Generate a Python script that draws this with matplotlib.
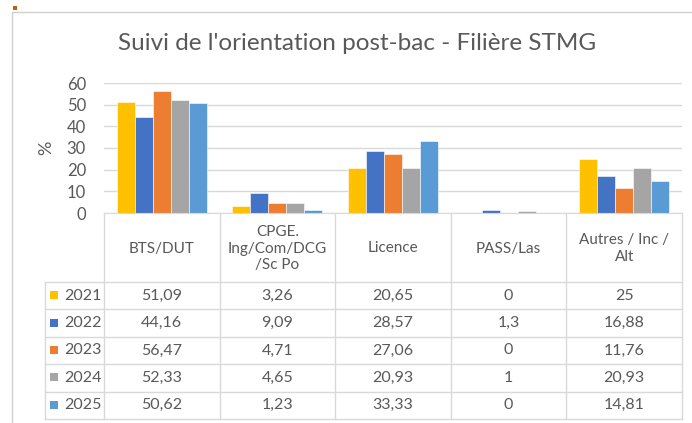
import matplotlib
matplotlib.use("Agg")
import matplotlib.pyplot as plt
from matplotlib.patches import Rectangle

plt.rcParams["font.family"] = ["Lato", "DejaVu Sans"]

categories = ["BTS/DUT", "CPGE.\nIng/Com/DCG\n/Sc Po", "Licence", "PASS/Las", "Autres / Inc /\nAlt"]
years = ["2021", "2022", "2023", "2024", "2025"]
v2021 = [51.09, 3.26, 20.65, 0, 25]
v2022 = [44.16, 9.09, 28.57, 1.3, 16.88]
v2023 = [56.47, 4.71, 27.06, 0, 11.76]
v2024 = [52.33, 4.65, 20.93, 1, 20.93]
v2025 = [50.62, 1.23, 33.33, 0, 14.81]
series = [v2021, v2022, v2023, v2024, v2025]
colors = ["#FFC000", "#4472C4", "#ED7D31", "#A5A5A5", "#5B9BD5"]

TXT = "#595959"
GRID = "#D9D9D9"
W, H = 692, 423


def fmt(v):
    return f"{v:g}".replace(".", ",")


fig = plt.figure(figsize=(W / 100, H / 100), dpi=100)

# overlay in pixel coords for frame + table
ov = fig.add_axes([0, 0, 1, 1])
ov.set_xlim(0, W)
ov.set_ylim(H, 0)
ov.axis("off")

# chart frame
ov.plot([12, 12, W], [H, 12, 12], color="#D0D0D0", lw=1)
ov.add_patch(Rectangle((13, 6), 4, 4, color="#C55A11", lw=0))

# bar plot area
x0, x1, y0, y1 = 104, 682, 213, 83
ax = fig.add_axes([x0 / W, 1 - y0 / H, (x1 - x0) / W, (y0 - y1) / H])
ax.set_xlim(0, len(categories))
ax.set_ylim(0, 60)
ax.set_yticks(range(0, 61, 10))
ax.set_xticks([])
ax.grid(axis="y", color=GRID, lw=1)
ax.set_axisbelow(True)
for s in ["top", "right", "left"]:
    ax.spines[s].set_visible(False)
ax.spines["bottom"].set_color(GRID)
ax.tick_params(axis="y", length=0, labelsize=12, labelcolor=TXT, pad=13)
ax.set_ylabel("%", fontsize=13, color=TXT, labelpad=9)

bw = 0.156
for i, (vals, c) in enumerate(zip(series, colors)):
    xs = [k + 0.5 + (i - 2) * bw for k in range(len(categories))]
    ax.bar(xs, vals, width=bw, color=c, edgecolor="white", linewidth=0.4)

# title
ov.text(357, 44, "Suivi de l'orientation post-bac - Filière STMG",
        ha="center", va="center", fontsize=17.5, color=TXT)

# data table
cols = [104 + k * (x1 - x0) / 5 for k in range(6)]
rows = [282, 309.4, 336.8, 364.2, 391.6, 419]
lx = 45
for cx in cols:
    ov.plot([cx, cx], [y0, rows[-1]], color=GRID, lw=1)
ov.plot([lx, lx], [rows[0], rows[-1]], color=GRID, lw=1)
for ry in rows:
    ov.plot([lx, x1], [ry, ry], color=GRID, lw=1)

for k, cat in enumerate(categories):
    cx = (cols[k] + cols[k + 1]) / 2
    ov.text(cx, (y0 + rows[0]) / 2 + 1, cat, ha="center", va="center",
            fontsize=11, color=TXT, linespacing=1.25)

for i, (yr, vals, c) in enumerate(zip(years, series, colors)):
    cy = (rows[i] + rows[i + 1]) / 2
    ov.add_patch(Rectangle((50, cy - 4.5), 8, 8, color=c, lw=0))
    ov.text(64, cy, yr, ha="left", va="center", fontsize=11.5, color=TXT)
    for k, v in enumerate(vals):
        cx = (cols[k] + cols[k + 1]) / 2
        ov.text(cx, cy, fmt(v), ha="center", va="center", fontsize=11.5, color=TXT)

fig.savefig("out.png", dpi=100)
